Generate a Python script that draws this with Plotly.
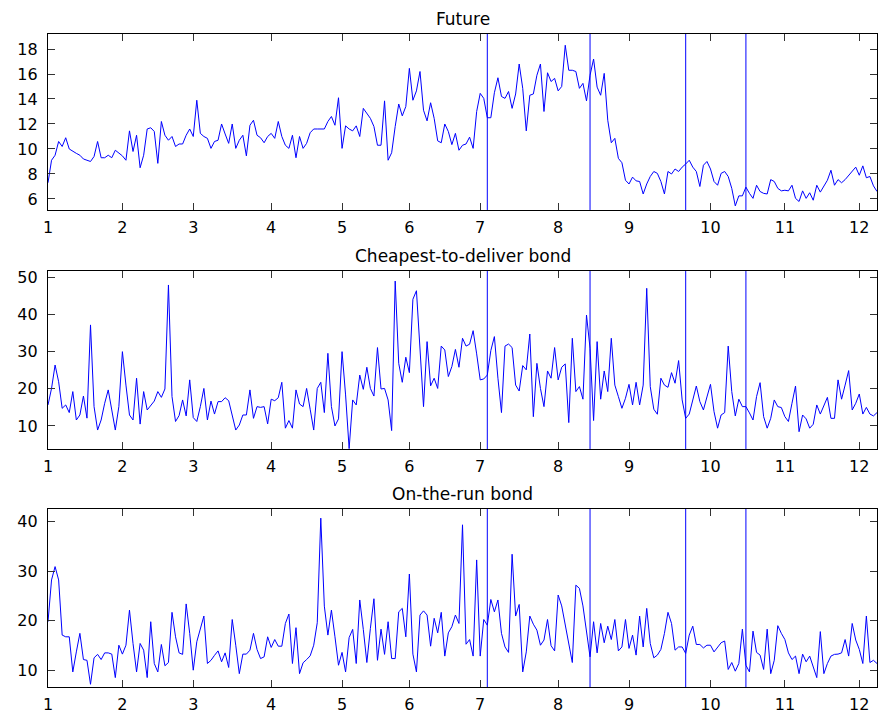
import plotly.graph_objects as go
from plotly.subplots import make_subplots

# trading-day index of the first day of each month, and the month numbers shown
month_start_day = [0, 21, 41, 63, 83, 102, 122, 144, 164, 187, 208, 229]
month_labels = ["1", "2", "3", "4", "5", "6", "7", "8", "9", "10", "11", "12"]

# days marked with a vertical line in every panel
event_days = [124, 153, 180, 197]

future = [
    7.3, 9.1, 9.5, 10.6, 10.2, 10.9, 10.0, 9.8, 9.65, 9.5, 9.2, 9.1, 9.0, 9.4, 10.6, 9.3,
    9.3, 9.5, 9.3, 9.9, 9.65, 9.45, 9.1, 11.45, 9.8, 11.1, 8.5, 9.5, 11.6, 11.7, 11.4, 8.85,
    12.2, 11.1, 10.7, 11.0, 10.2, 10.4, 10.4, 11.1, 11.6, 11.0, 13.9, 11.25, 11.0, 10.85,
    10.05, 10.6, 10.7, 12.0, 11.2, 10.45, 12.0, 10.05, 10.7, 11.1, 9.45, 11.9,
    12.3, 11.1, 10.9, 10.5, 11.0, 11.25, 10.85, 12.2, 11.0, 10.3, 10.05, 11.1, 9.3, 11.0,
    10.05, 10.45, 11.3, 11.6, 11.6, 11.6, 11.6, 12.2, 12.6, 11.9, 14.1, 10.05, 11.85, 11.6,
    11.45, 11.85, 11.0, 13.25, 12.85, 12.45, 11.8, 10.3, 10.3, 13.85, 9.1, 9.7, 11.8, 13.6,
    12.65, 13.4, 16.45, 13.9, 14.65, 16.2, 13.1, 12.25, 13.7, 12.45, 10.65, 10.5, 12.0,
    11.4, 10.35, 11.25, 9.9,
    10.3, 10.4, 10.95, 10.05, 13.0, 14.45, 14.05, 12.5, 12.5, 14.5, 15.7, 14.2, 14.05, 14.6,
    13.25, 14.4, 16.8, 14.85, 11.45, 14.3, 14.4, 15.9, 16.8, 13.0, 16.1, 15.4, 15.65, 14.65,
    15.0, 18.3, 16.3, 16.3, 16.2, 14.85, 15.25, 13.85, 15.9, 17.2, 14.95, 14.3, 16.05, 12.3,
    10.5, 10.85, 9.25, 8.9, 7.5, 7.2, 7.75, 7.45, 7.4, 6.4, 7.2, 7.8, 8.2, 8.05, 7.4, 6.4, 8.2,
    8.0, 8.4, 8.2, 8.55, 8.8, 9.1, 8.55, 8.2, 7.0, 8.7, 9.0, 8.4, 7.4, 7.1, 8.05, 8.2, 7.8,
    6.85, 5.45, 6.25, 6.25, 6.95, 6.45, 6.05, 7.1, 6.6, 6.45, 6.4, 7.55, 7.4, 6.85, 6.65,
    6.7, 6.65, 7.1, 6.05, 5.8, 6.65, 6.05, 6.5, 5.9, 7.1, 6.55, 7.0, 7.5, 8.3, 7.1, 7.55,
    7.3, 7.55, 7.9, 8.2, 8.55, 7.9, 8.65, 7.7, 7.8, 7.05, 6.6,
]

ctd_bond = [
    15.65, 20.1, 26.4, 21.9, 14.75, 15.65, 13.6, 19.25, 11.6, 12.95, 18.05, 12.1, 37.2, 15.2,
    8.9, 11.6, 16.1, 19.7, 14.3, 8.9, 15.2, 30.0, 21.0, 12.95, 11.6, 22.85, 10.5, 19.25,
    14.3, 15.65, 16.7, 19.25, 17.7, 19.95, 47.95, 17.9, 11.2, 12.8, 17.0, 12.7, 22.4, 12.25,
    11.2, 15.2, 20.1, 11.6, 16.7, 13.2, 16.55, 16.55, 17.6, 16.8, 12.95, 8.9, 10.25, 12.95,
    12.95,
    19.7, 12.05, 15.2, 15.0, 15.2, 10.55, 17.2, 16.8, 17.6, 21.75, 9.4, 11.45, 9.4, 19.7,
    15.9, 15.2, 20.1, 14.5, 8.9, 20.1, 21.75, 13.6, 29.55, 15.2, 10.0, 11.9, 30.0, 18.35,
    3.9, 17.0, 15.65, 23.7, 19.85, 25.8, 20.1, 18.05, 31.1, 19.95, 20.1, 17.0, 8.75, 49.0,
    26.85, 21.75, 28.5, 24.35, 44.1, 46.4, 31.35, 15.2, 32.7, 20.8, 22.85, 20.1, 31.5,
    30.45, 23.3, 26.0,
    30.6, 25.8, 33.6, 31.5, 32.0, 35.65, 29.4, 22.4, 22.65, 23.7, 30.3, 34.05, 22.85, 13.6,
    31.5, 32.05, 31.1, 21.0, 19.4, 26.25, 25.1, 34.75, 12.5, 26.85, 20.1, 15.2, 24.8, 22.85,
    31.1, 22.4, 25.8, 26.7, 10.9, 33.6, 19.25, 20.6, 17.2, 39.85, 30.9, 11.45, 32.7, 17.2,
    24.8, 19.25, 33.6, 21.0, 17.9, 14.75, 17.45, 21.2, 15.65, 21.75, 15.65, 21.0, 47.05,
    20.6, 14.5, 13.15, 22.85, 21.0,
    20.4, 24.35, 21.5, 27.6, 17.0, 12.05, 13.2, 17.0, 20.75, 16.55, 14.3, 17.8, 21.2, 13.85,
    9.4, 12.95, 13.6, 31.5, 19.25, 12.7, 17.2, 15.2, 15.2, 13.5, 11.6, 17.9, 21.65, 12.5,
    9.4, 12.05, 17.0, 15.2, 14.95, 12.5, 11.2, 16.1, 20.75, 8.45, 12.95, 11.9, 9.4, 10.45,
    15.65, 13.2, 15.4, 17.7, 12.05, 12.05, 22.4, 17.2, 21.0, 24.9, 14.3, 16.1, 18.6, 13.2,
    15.0, 13.2, 12.7, 13.6,
]

otr_bond = [
    19.8, 28.25, 30.95, 28.25, 17.1, 16.75, 16.75, 9.65, 13.7, 17.45, 12.15, 12.0, 7.15,
    12.5, 13.2, 12.15, 13.5, 13.5, 13.25, 8.5, 15.05, 13.25, 15.05, 22.15, 15.4, 9.65, 15.4,
    14.05, 8.5, 19.8, 11.35, 9.65, 15.2, 10.9, 11.55, 21.7, 16.75, 13.5, 13.2, 23.4, 17.45,
    10.0, 15.75, 18.45, 20.95, 11.35, 12.0, 13.0, 13.9, 11.7, 13.5, 10.55, 20.25, 15.05,
    9.3, 13.25, 13.25, 14.05,
    17.45, 14.2, 12.35, 12.7, 16.75, 14.6, 16.2, 14.85, 14.85, 19.45, 21.35, 11.35, 18.6,
    9.3, 11.5, 12.15, 12.9, 15.05, 19.6, 40.75, 22.95, 17.1, 22.15, 16.75, 11.0, 13.6, 9.65,
    16.6, 18.25, 11.35, 24.2, 18.25, 11.55, 18.45, 24.45, 12.0, 18.3, 13.2, 19.8, 12.35,
    12.35, 21.8, 22.5, 16.75, 29.45, 13.25, 9.65, 21.15, 22.0, 21.15, 14.85, 20.5, 17.55,
    21.7, 12.85, 17.55, 18.8, 21.15, 19.45,
    39.4, 15.25, 16.2, 12.85, 32.3, 12.85, 20.25, 19.1, 24.3, 21.8, 24.2, 17.45, 14.7, 13.6,
    33.45, 20.95, 23.3, 9.65, 13.7, 20.95, 19.3, 18.1, 15.05, 16.1, 20.25, 14.95, 13.9,
    25.2, 23.0, 18.9, 15.05, 11.55, 27.2, 26.55, 23.0, 17.45, 12.7, 19.8, 13.5, 19.45, 15.55,
    18.9, 16.2, 20.25, 13.9, 14.7, 20.25, 14.4, 17.1, 13.05, 20.95, 14.7, 22.5, 15.4, 12.5,
    13.05, 14.2, 17.45, 21.7,
    19.45, 14.05, 14.7, 14.7, 13.4, 17.1, 18.9, 15.2, 15.2, 14.5, 15.05, 15.05, 13.7, 14.7,
    15.55, 15.9, 10.15, 11.55, 9.8, 11.35, 18.3, 11.0, 9.65, 17.9, 13.6, 13.05, 10.15, 18.3,
    9.3, 12.0, 19.0, 17.45, 16.2, 13.5, 12.15, 12.85, 9.3, 13.25, 11.7, 12.85, 10.7, 8.5,
    17.8, 9.3, 11.35, 12.85, 13.2, 13.25, 13.5, 16.2, 12.85, 19.45, 16.1, 14.2, 11.35, 20.95,
    11.55, 12.0, 11.35,
]

titles = ["Future", "Cheapest-to-deliver bond", "On-the-run bond"]
series = [future, ctd_bond, otr_bond]
y_ticks = [[6, 8, 10, 12, 14, 16, 18], [10, 20, 30, 40, 50], [10, 20, 30, 40]]
y_ranges = [[5.12, 19.2], [3.8, 51.7], [6.6, 42.6]]
domains = [[0.7305, 1.0], [0.3645, 0.637], [0.0, 0.2726]]

BLUE = "#0000ff"
FONT = "DejaVu Sans"
n_days = max(len(s) for s in series)

fig = make_subplots(rows=3, cols=1)

for i, vals in enumerate(series):
    row = i + 1
    fig.add_trace(go.Scatter(x=list(range(len(vals))), y=vals, mode="lines",
                             line=dict(color=BLUE, width=1), hoverinfo="skip"),
                  row=row, col=1)
    for d in event_days:
        fig.add_vline(x=d, line=dict(color=BLUE, width=1), row=row, col=1)

    axis_style = dict(ticks="inside", ticklen=7, tickwidth=1, tickcolor="#333333",
                      showline=True, linecolor="black", linewidth=1.2, mirror="ticks",
                      showgrid=False, zeroline=False, automargin=False,
                      tickfont=dict(family=FONT, size=16, color="black"))
    fig.update_xaxes(range=[0, n_days - 1], tickmode="array", tickvals=month_start_day,
                     ticktext=month_labels, ticklabelstandoff=3, **axis_style,
                     row=row, col=1)
    fig.update_yaxes(range=y_ranges[i], tickmode="array", tickvals=y_ticks[i],
                     domain=domains[i], ticklabelstandoff=6, **axis_style,
                     row=row, col=1)
    fig.add_annotation(text=titles[i], xref="paper", yref="paper", x=0.5, y=domains[i][1],
                       xanchor="center", yanchor="bottom", yshift=3, showarrow=False,
                       font=dict(family=FONT, size=17, color="black"))

fig.update_layout(
    width=881, height=715,
    margin=dict(l=48, r=4, t=34, b=28),
    paper_bgcolor="white", plot_bgcolor="white",
    showlegend=False,
    font=dict(family=FONT, color="black"),
)

# the page body has a default margin that would shift the figure
fig.write_html("out.html", config={"displayModeBar": False},
               post_script="document.body.style.margin='0';")
